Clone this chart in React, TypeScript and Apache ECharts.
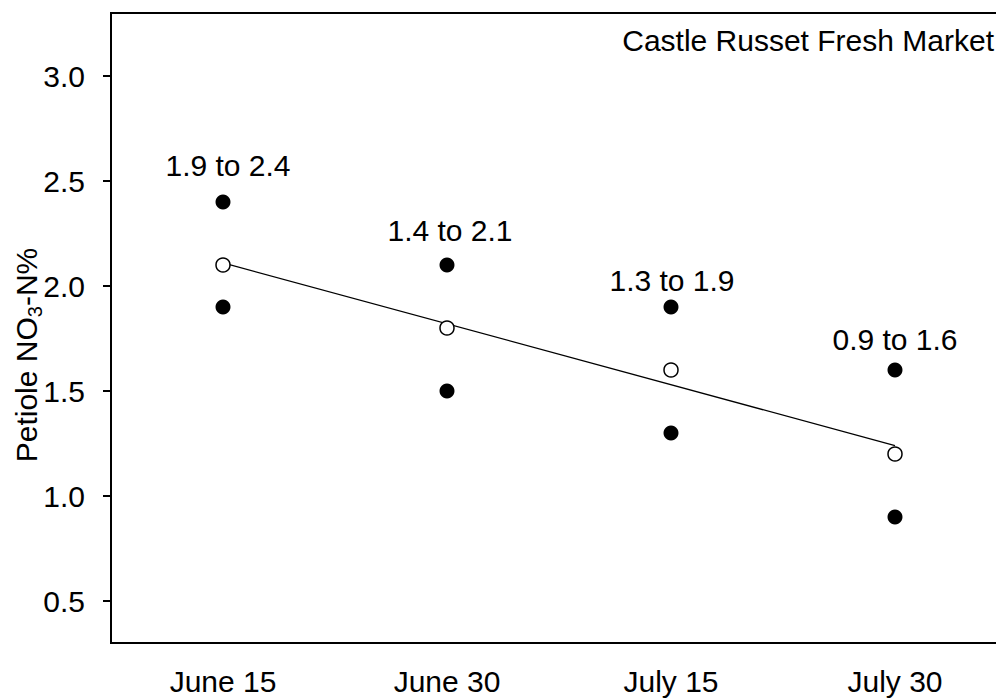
import React, { useEffect, useRef } from "react";
import * as echarts from "echarts";

const categories = ["June 15", "June 30", "July 15", "July 30"];
const highValues = [2.4, 2.1, 1.9, 1.6];
const lowValues = [1.9, 1.5, 1.3, 0.9];
const meanValues = [2.1, 1.8, 1.6, 1.2];
const rangeLabels = ["1.9 to 2.4", "1.4 to 2.1", "1.3 to 1.9", "0.9 to 1.6"];
const trendStart = 2.11;
const trendEnd = 1.24;
const yTicks = [0.5, 1.0, 1.5, 2.0, 2.5, 3.0];
const title = "Castle Russet Fresh Market";

// label nudges (style only, pixels)
const labelNudges = [
  [5, -10],
  [3, -8],
  [1, 0],
  [0, -4],
];

const FONT = 'Arial, "Liberation Sans", sans-serif';
const FS = 30;

export default function App() {
  const ref = useRef<HTMLDivElement>(null);
  useEffect(() => {
    if (!ref.current) return;
    document.documentElement.style.overflow = "hidden";
    document.body.style.overflow = "hidden";
    const chart = echarts.init(ref.current, null, { renderer: "svg" });
    chart.setOption({
      animation: false,
      backgroundColor: "#fff",
      textStyle: { fontFamily: FONT, color: "#000" },
      grid: {
        left: 111,
        top: 13,
        right: 0,
        bottom: 55,
        show: true,
        borderColor: "#000",
        borderWidth: 2,
        backgroundColor: "transparent",
      },
      xAxis: {
        type: "category",
        data: categories,
        boundaryGap: true,
        axisLine: { lineStyle: { color: "#000", width: 2 } },
        axisTick: { alignWithLabel: true, length: 8, lineStyle: { color: "#000", width: 2 } },
        axisLabel: { fontSize: FS, color: "#000", fontFamily: FONT, margin: 23 },
        splitLine: { show: false },
      },
      yAxis: {
        type: "value",
        min: 0.3,
        max: 3.3,
        axisLine: { show: true, lineStyle: { color: "#000", width: 2 } },
        axisTick: {
          show: true,
          length: 8,
          customValues: yTicks,
          lineStyle: { color: "#000", width: 2 },
        },
        axisLabel: {
          fontSize: FS,
          color: "#000",
          fontFamily: FONT,
          margin: 26,
          customValues: yTicks,
          formatter: (v: number) => v.toFixed(1),
        },
        splitLine: { show: false },
      },
      graphic: [
        {
          type: "text",
          x: 994,
          y: 40,
          style: {
            text: title,
            font: `${FS}px ${FONT}`,
            fill: "#000",
            align: "right",
            verticalAlign: "middle",
          },
        },
        {
          type: "text",
          x: 26,
          y: 355,
          rotation: Math.PI / 2,
          style: {
            text: "{a|Petiole NO}{b|3}{a|-N%}",
            align: "center",
            verticalAlign: "middle",
            fill: "#000",
            rich: {
              a: { fontSize: FS, fontFamily: FONT, lineHeight: FS, verticalAlign: "top", fill: "#000" },
              b: {
                fontSize: 20,
                fontFamily: FONT,
                lineHeight: 20,
                verticalAlign: "top",
                padding: [14, 0, 0, 0],
                fill: "#000",
              },
            },
          },
        },
      ],
      series: [
        {
          type: "line",
          data: [
            [0, trendStart],
            [categories.length - 1, trendEnd],
          ],
          showSymbol: false,
          symbol: "none",
          lineStyle: { color: "#000", width: 1.3 },
          z: 2,
        },
        {
          type: "scatter",
          data: highValues.map((v, i) => ({
            value: v,
            label: { offset: labelNudges[i] },
          })),
          symbol: "circle",
          symbolSize: 15,
          itemStyle: { color: "#000", opacity: 1 },
          label: {
            show: true,
            position: "top",
            distance: 4,
            fontSize: FS,
            fontFamily: FONT,
            color: "#000",
            formatter: (p: any) => rangeLabels[p.dataIndex],
          },
          z: 3,
        },
        {
          type: "scatter",
          data: lowValues,
          symbol: "circle",
          symbolSize: 15,
          itemStyle: { color: "#000", opacity: 1 },
          z: 3,
        },
        {
          type: "scatter",
          data: meanValues,
          symbol: "circle",
          symbolSize: 14,
          itemStyle: { color: "#fff", borderColor: "#000", borderWidth: 1.5, opacity: 1 },
          z: 4,
        },
      ],
    });
    return () => chart.dispose();
  }, []);
  return (
    <div
      ref={ref}
      style={{ position: "fixed", left: 0, top: 0, width: 1007, height: 698 }}
    />
  );
}
